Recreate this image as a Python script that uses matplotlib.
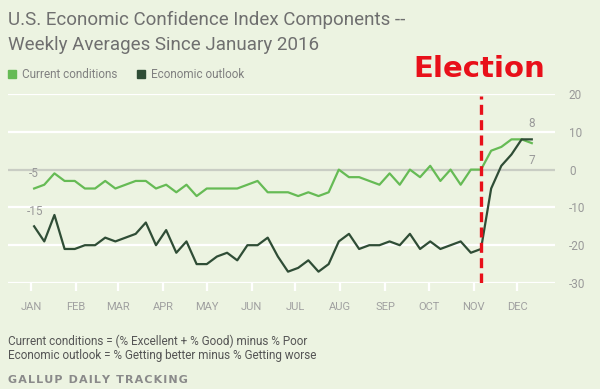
import matplotlib
matplotlib.use("Agg")
import matplotlib.pyplot as plt
import pandas as pd

# weekly averages, first week of Jan 2016 onward
weeks = pd.date_range("2016-01-03", periods=50, freq="7D")
current = [-5, -4, -1, -3, -3, -5, -5, -3, -5, -4, -3, -3, -5, -4, -6, -4, -7, -5, -5, -5,
           -5, -4, -3, -6, -6, -6, -7, -6, -7, -6, 0, -2, -2, -3, -4, -1, -4, 0, -2, 1,
           -3, 0, -4, 0, 0, 5, 6, 8, 8, 7]
outlook = [-15, -19, -12, -21, -21, -20, -20, -18, -19, -18, -17, -14, -20, -16, -22, -19, -25, -25, -23, -22,
           -24, -20, -20, -18, -23, -27, -26, -24, -27, -25, -19, -17, -21, -20, -20, -19, -20, -17, -21, -19,
           -21, -20, -19, -22, -21, -5, 1, 4, 8, 8]
yticks = [-30, -20, -10, 0, 10, 20]
months = ["JAN", "FEB", "MAR", "APR", "MAY", "JUN", "JUL", "AUG", "SEP", "OCT", "NOV", "DEC"]
election_week = 44

bg = "#ecf3e1"
c_green = "#66bb55"
c_dark = "#2f4d36"
grey = "#999999"

plt.rcParams["font.family"] = ["Roboto", "DejaVu Sans"]

fig = plt.figure(figsize=(6, 3.89), dpi=100, facecolor=bg)
ax = fig.add_axes([8 / 600, (389 - 283) / 389, 547 / 600, 189 / 389], facecolor=bg)

ax.set_xlim(pd.Timestamp("2015-12-16"), pd.Timestamp("2016-12-27"))
ax.set_ylim(-30, 20)

for v in yticks:
    ax.axhline(v, color="#c9cdc4" if v == 0 else "white", lw=1.6, zorder=1)

ax.plot(weeks, current, color=c_green, lw=1.6, zorder=3, clip_on=False)
ax.plot(weeks, outlook, color=c_dark, lw=1.6, zorder=3, clip_on=False)

ax.axvline(weeks[election_week], ymin=0, ymax=0.99, color="#e8101a", lw=2.4,
           ls=(0, (3, 1.6)), zorder=4)
ax.text(0.742, 1.06, "Election", transform=ax.transAxes, color="#e8101a",
        fontsize=21, fontweight="bold", family="DejaVu Sans", va="bottom", ha="left")

for s in ax.spines.values():
    s.set_visible(False)

ax.yaxis.tick_right()
ax.set_yticks(yticks)
ax.set_yticklabels([str(v) for v in yticks])
ax.tick_params(axis="y", length=0, pad=10, labelsize=8.5, labelcolor=grey)

ax.set_xticks([pd.Timestamp(2016, m, 1) for m in range(1, 13)])
ax.set_xticklabels(months)
ax.tick_params(axis="x", length=6, width=1.6, color="white", pad=8, labelsize=8, labelcolor="#a0a0a0")

# start/end value labels
ax.annotate(str(current[0]), (weeks[0], current[0]), xytext=(0, 8), textcoords="offset points",
            ha="center", fontsize=8.5, color=grey)
ax.annotate(str(outlook[0]), (weeks[0], outlook[0]), xytext=(1, 8), textcoords="offset points",
            ha="center", fontsize=8.5, color=grey)
ax.annotate(str(outlook[-1]), (weeks[-1], outlook[-1]), xytext=(0, 9), textcoords="offset points",
            ha="center", fontsize=8.5, color=grey)
ax.annotate(str(current[-1]), (weeks[-1], current[-1]), xytext=(0, -15), textcoords="offset points",
            ha="center", fontsize=8.5, color=grey)

# title
fig.text(8 / 600, 1 - 20 / 389, "U.S. Economic Confidence Index Components --", fontsize=13.5,
         color="#6f6f6f", va="center")
fig.text(8 / 600, 1 - 45 / 389, "Weekly Averages Since January 2016", fontsize=13.5,
         color="#6f6f6f", va="center")

# legend
fig.patches.append(plt.Rectangle((8 / 600, 1 - 78 / 389), 8 / 600, 8 / 389, color=c_green,
                                 transform=fig.transFigure))
fig.text(22 / 600, 1 - 74 / 389, "Current conditions", fontsize=8.5, color="#808080", va="center")
fig.patches.append(plt.Rectangle((137 / 600, 1 - 78 / 389), 8 / 600, 8 / 389, color=c_dark,
                                 transform=fig.transFigure))
fig.text(151 / 600, 1 - 74 / 389, "Economic outlook", fontsize=8.5, color="#808080", va="center")

# notes
fig.text(8 / 600, 1 - 341 / 389, "Current conditions = (% Excellent + % Good) minus % Poor",
         fontsize=8.5, color="#555555", va="center")
fig.text(8 / 600, 1 - 356 / 389, "Economic outlook = % Getting better minus % Getting worse",
         fontsize=8.5, color="#555555", va="center")
fig.text(8 / 600, 1 - 380 / 389, "\u200a".join("GALLUP DAILY TRACKING"),
         fontsize=8, color="#8a8a8a", fontweight="bold", va="center", family=["DejaVu Sans"])

fig.savefig("out.png", dpi=100, facecolor=bg)
